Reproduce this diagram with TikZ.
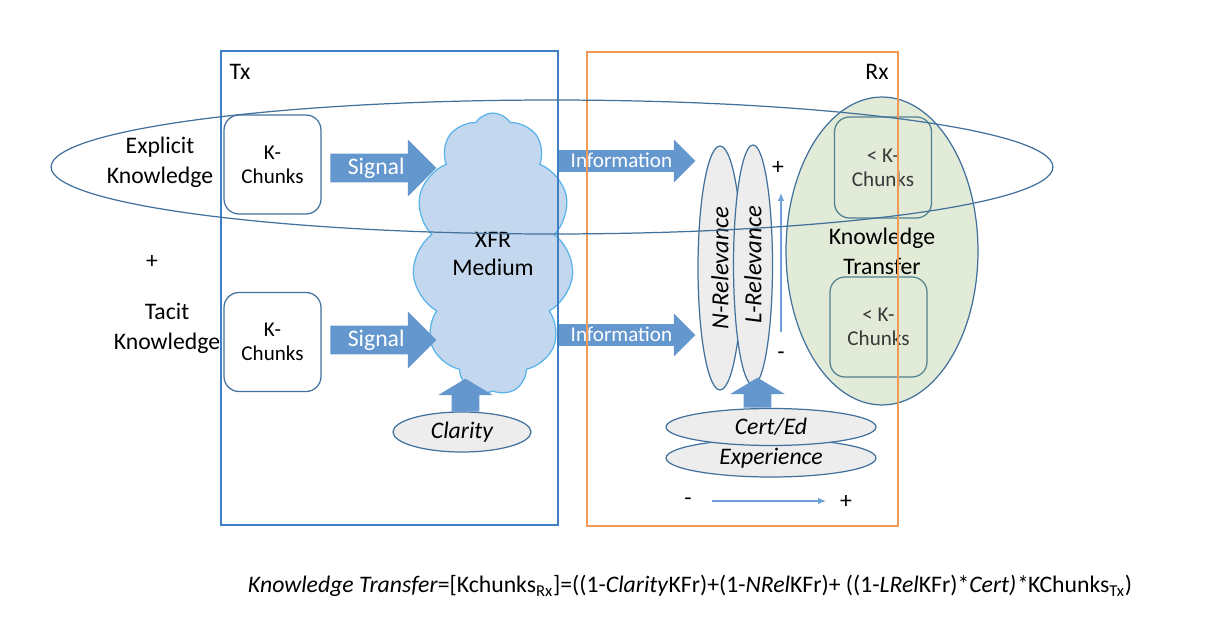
\documentclass[tikz,border=0pt]{standalone}
\usepackage{fontspec}
\setmainfont{Carlito}
\usepackage{tikz}
\usetikzlibrary{arrows.meta,positioning,shapes.geometric,shapes.symbols,shapes.arrows}
\definecolor{txblue}{HTML}{3F7FC4}
\definecolor{rxorange}{HTML}{F29A55}
\definecolor{arrowfill}{HTML}{6497CE}
\definecolor{cloudfill}{HTML}{C3D7EE}
\definecolor{cloudline}{HTML}{58B3EA}
\definecolor{elline}{HTML}{41719C}
\definecolor{grayfill}{HTML}{EDEDED}
\definecolor{greenfill}{HTML}{E2EBD7}
\definecolor{rxchunkline}{HTML}{4F8290}
\definecolor{thinline}{HTML}{6FA0D8}
\tikzset{
ktframe/.style={rectangle,draw,line width=0.75pt,inner sep=0pt,minimum height=9.48cm},
ktchunk/.style={rectangle,rounded corners=0.3cm,draw=elline,fill=white,line width=0.7pt,align=center,inner sep=1pt,minimum width=1.94cm,minimum height=1.98cm,font=\fontsize{12}{13.6}\selectfont},
ktrxchunk/.style={ktchunk,draw=rxchunkline,fill=none,text=black!78,minimum height=2.02cm},
ktcloud/.style={cloud,cloud puffs=11,cloud puff arc=115,cloud ignores aspect,draw=cloudline,fill=cloudfill,line width=0.7pt,align=center,minimum width=3.22cm,minimum height=5.64cm,font=\fontsize{13.5}{16.4}\selectfont},
ktgreen/.style={ellipse,draw=elline,fill=greenfill,line width=0.7pt,align=center,inner sep=0pt,minimum width=3.84cm,minimum height=6.16cm,font=\fontsize{13.5}{17}\selectfont},
ktgray/.style={ellipse,draw=elline,fill=grayfill,line width=0.7pt,inner sep=0pt,font=\fontsize{13.5}{16}\selectfont\itshape},
ktring/.style={ellipse,draw=elline,line width=0.7pt,inner sep=0pt,minimum width=20.04cm,minimum height=2.68cm},
ktblock/.style={single arrow,fill=arrowfill,draw=none,inner xsep=0pt,inner ysep=0pt,text=white,single arrow tip angle=90},
ktsignal/.style={ktblock,font=\fontsize{13.5}{16}\selectfont,text height=0.42cm,text depth=0.14cm,single arrow head extend=0.28cm,minimum height=2.12cm},
ktinfo/.style={ktblock,font=\fontsize{12}{14}\selectfont,text height=0.34cm,text depth=0.08cm,single arrow head extend=0.21cm,minimum height=2.74cm},
ktpush/.style={ktblock,rotate=90,text height=0pt,text depth=0pt,inner ysep=0.27cm,single arrow head extend=0.27cm,single arrow tip angle=118},
ktthin/.style={-{Latex[length=1.6mm,width=1.3mm]},draw=thinline,line width=0.6pt},
ktlabel/.style={align=center,font=\fontsize{13.5}{17}\selectfont}
}
\begin{document}
\begin{tikzpicture}[x=0.02cm,y=-0.02cm]
\useasboundingbox (0,0) rectangle (1224,618);
% sender side
\node[ktlabel] (explicit) at (160,162) {Explicit\\Knowledge};
\node[ktlabel] (plus) at (152,262) {+};
\node[ktlabel] (tacit) at (167,328) {Tacit\\Knowledge};
\node[ktcloud] (medium) at (493,254) {XFR\\Medium};
\node[ktchunk] (txtop) at (272.5,164.5) {K-\\Chunks};
\node[ktchunk] (txbot) at (272.5,342) {K-\\Chunks};
\node[ktsignal,anchor=tail] (sigtop) at (330,168) {Signal};
\node[ktsignal,anchor=tail] (sigbot) at (330,340) {Signal};
\node[ktgray,minimum width=2.76cm,minimum height=0.8cm] (clarity) at (462,432) {Clarity};
\node[ktpush,anchor=tail,minimum height=0.66cm] (clarpush) at (465.5,412) {};
% receiver side
\node[ktinfo,anchor=tail] (infotop) at (558,161) {Information};
\node[ktinfo,anchor=tail] (infobot) at (558,335) {Information};
\node[ktgreen] (transfer) at (882,251) {Knowledge\\Transfer};
\node[ktrxchunk] (rxtop) at (883,167.5) {< K-\\Chunks};
\node[ktrxchunk,minimum height=2cm] (rxbot) at (878.5,327) {< K-\\Chunks};
\node[ktgray,rotate=90,minimum width=4.88cm,minimum height=0.88cm,font=\fontsize{14}{16}\selectfont\itshape] (nrel) at (720,268) {N-Relevance};
\node[ktgray,rotate=90,minimum width=4.8cm,minimum height=0.78cm,font=\fontsize{14}{16}\selectfont\itshape] (lrel) at (753,265) {L-Relevance};
\node[ktgray,minimum width=4.2cm,minimum height=0.76cm] (experience) at (771,458) {Experience};
\node[ktgray,minimum width=4.2cm,minimum height=0.74cm] (certed) at (771,427) {Cert/Ed};
\node[ktpush,anchor=tail,minimum height=0.6cm] (certpush) at (757.5,408) {};
\node[ktlabel] (relplus) at (778,168) {+};
\node[ktlabel] (relminus) at (781,356) {-};
\coordinate (rellow) at (781,332);
\coordinate (relhigh) at (781,193);
\draw[ktthin] (rellow) -- (relhigh);
\node[ktlabel] (expminus) at (688,502) {-};
\node[ktlabel] (expplus) at (846,502) {+};
\coordinate (explow) at (712,501);
\coordinate (exphigh) at (826,501);
\draw[ktthin] (explow) -- (exphigh);
% frames on top
\node[ktframe,draw=txblue,minimum width=6.74cm] (txframe) at (389.5,288) {};
\node[ktframe,draw=rxorange,minimum width=6.22cm] (rxframe) at (742.5,289) {};
\node[ktlabel] (txlabel) at (240,72) {Tx};
\node[ktlabel] (rxlabel) at (877,72) {Rx};
\node[ktring] (explicitring) at (552,167) {};
\node[font=\fontsize{13.5}{15}\selectfont] (formula) at (690,586) {\textit{Knowledge Transfer}=[Kchunks\textsubscript{Rx}]=((1-\textit{Clarity}KFr)+(1-\textit{NRel}KFr)+ ((1-\textit{LRel}KFr)*\textit{Cert)*}KChunks\textsubscript{Tx})};
\end{tikzpicture}
\end{document}
